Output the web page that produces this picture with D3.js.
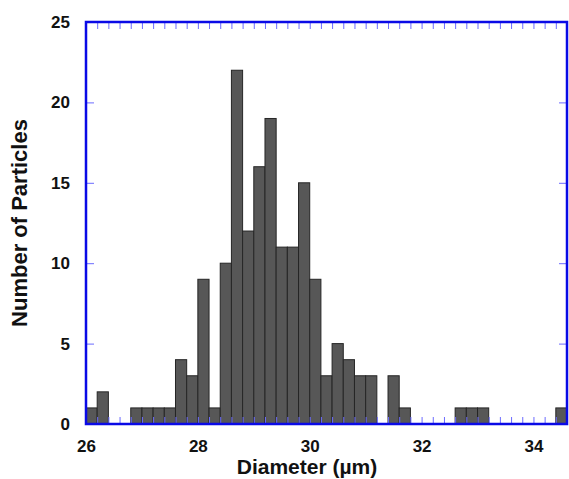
<!DOCTYPE html>
<html>
<head>
<meta charset="utf-8">
<script src="https://cdn.jsdelivr.net/npm/d3@7"></script>
<style>
  body { margin: 0; background: #fff; }
  text { font-family: "Liberation Sans", Arial, sans-serif; font-weight: bold; fill: #111; }
</style>
</head>
<body>
<svg id="hist"></svg>
<script>
// Bin starts (µm), each bin is 0.2 µm wide
const binStarts = [26.0, 26.2, 26.4, 26.6, 26.8, 27.0, 27.2, 27.4, 27.6, 27.8,
                   28.0, 28.2, 28.4, 28.6, 28.8, 29.0, 29.2, 29.4, 29.6, 29.8,
                   30.0, 30.2, 30.4, 30.6, 30.8, 31.0, 31.2, 31.4, 31.6, 31.8,
                   32.0, 32.2, 32.4, 32.6, 32.8, 33.0, 33.2, 33.4, 33.6, 33.8,
                   34.0, 34.2, 34.4];
const counts = [1, 2, 0, 0, 1, 1, 1, 1, 4, 3,
                9, 1, 10, 22, 12, 16, 19, 11, 11, 15,
                9, 3, 5, 4, 3, 3, 0, 3, 1, 0,
                0, 0, 0, 1, 1, 1, 0, 0, 0, 0,
                0, 0, 1];
const binWidth = 0.2;
const xTicks = [26, 28, 30, 32, 34];
const yTicks = [0, 5, 10, 15, 20, 25];

const W = 569, H = 479;
const margin = { top: 22, right: 2, bottom: 55, left: 86 };
const width = W - margin.left - margin.right;
const height = H - margin.top - margin.bottom;

const svg = d3.select('#hist')
    .attr('width', W)
    .attr('height', H);

const g = svg.append('g')
    .attr('transform', `translate(${margin.left},${margin.top})`);

const x = d3.scaleLinear().domain([26, 34.6]).range([0, width]);
const y = d3.scaleLinear().domain([0, 25]).range([height, 0]);

// bars
g.selectAll('rect.bar')
    .data(binStarts.map((b, i) => ({ start: b, n: counts[i] })).filter(d => d.n > 0))
    .enter()
    .append('rect')
    .attr('class', 'bar')
    .attr('x', d => x(d.start))
    .attr('y', d => y(d.n))
    .attr('width', d => x(d.start + binWidth) - x(d.start))
    .attr('height', d => y(0) - y(d.n))
    .attr('fill', '#575757')
    .attr('stroke', '#262626')
    .attr('stroke-width', 1);

// minor ticks every bin, pointing inward on top and bottom
const minor = binStarts.concat([34.6]);
const tickColor = '#6b6bff';

const styleTicks = sel => {
    sel.select('.domain').remove();
    sel.selectAll('line').attr('stroke', tickColor).attr('stroke-width', 1);
    sel.selectAll('text').remove();
};

g.append('g')
    .attr('transform', `translate(0,${height})`)
    .call(d3.axisBottom(x).tickValues(minor).tickSize(-7))
    .call(styleTicks);

g.append('g')
    .call(d3.axisTop(x).tickValues(minor).tickSize(-7))
    .call(styleTicks);

g.append('g')
    .call(d3.axisLeft(y).tickValues(yTicks).tickSize(-8))
    .call(styleTicks);

g.append('g')
    .attr('transform', `translate(${width},0)`)
    .call(d3.axisRight(y).tickValues(yTicks).tickSize(-8))
    .call(styleTicks);

// labels
const xLab = g.append('g')
    .attr('transform', `translate(0,${height})`)
    .call(d3.axisBottom(x).tickValues(xTicks).tickSize(0).tickPadding(16).tickFormat(d3.format('d')));
xLab.select('.domain').remove();
xLab.selectAll('text').attr('font-size', 17).attr('font-family', null).style('fill', '#111');

const yLab = g.append('g')
    .call(d3.axisLeft(y).tickValues(yTicks).tickSize(0).tickPadding(16).tickFormat(d3.format('d')));
yLab.select('.domain').remove();
yLab.selectAll('text').attr('font-size', 17).attr('font-family', null).style('fill', '#111');

// frame
g.append('rect')
    .attr('x', 0)
    .attr('y', 0)
    .attr('width', width)
    .attr('height', height)
    .attr('fill', 'none')
    .attr('stroke', '#0a0ae6')
    .attr('stroke-width', 2.5);

// axis titles
svg.append('text')
    .attr('x', 307)
    .attr('y', 474)
    .attr('text-anchor', 'middle')
    .attr('font-size', 21)
    .text('Diameter (µm)');

svg.append('text')
    .attr('transform', 'translate(27,223) rotate(-90)')
    .attr('text-anchor', 'middle')
    .attr('font-size', 22)
    .text('Number of Particles');
</script>
</body>
</html>
